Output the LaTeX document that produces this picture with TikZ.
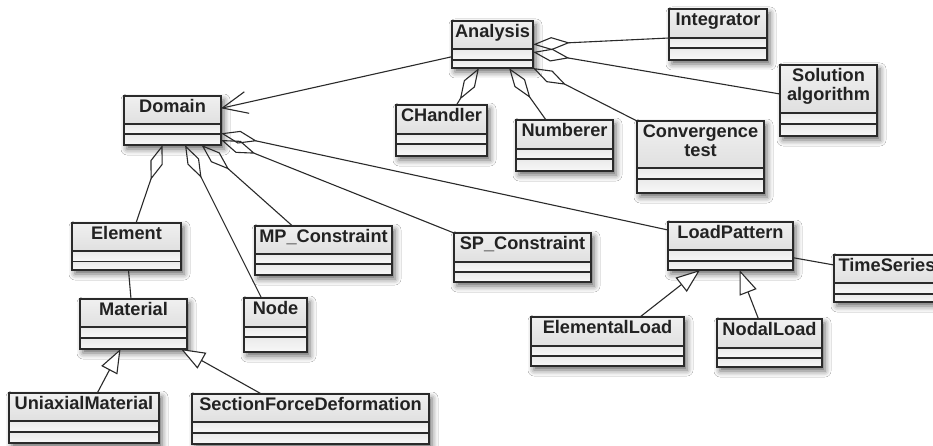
\documentclass[tikz,border=0pt]{standalone}
\usepackage{fontspec}
\setmainfont{Liberation Sans}
\usetikzlibrary{arrows.meta,fit,shadows.blur}
\definecolor{ttop}{HTML}{F0F0F0}
\definecolor{tbot}{HTML}{E0E0E0}
\definecolor{ctop}{HTML}{EAEAEA}
\definecolor{cbot}{HTML}{F8F8F8}
\definecolor{linec}{HTML}{2A2A2A}
\definecolor{textc}{HTML}{222222}
\tikzset{
  boxbase/.style={inner sep=0pt, outer sep=0pt, fill=white,
    blur shadow={shadow xshift=3pt, shadow yshift=-4pt, shadow blur radius=6pt, shadow opacity=60}},
  boxline/.style={draw=linec, line width=1.8pt},
  classtitle/.style={anchor=north, inner xsep=0pt, inner ysep=3.6pt, text=textc,
    font=\fontsize{18.2}{19}\selectfont\bfseries, align=center},
  assoc/.style={draw=linec, line width=1.1pt},
  agg/.style={assoc, {Diamond[open, length=37pt, width=13pt, line width=1.1pt]}-},
  gen/.style={assoc, {Triangle[fill=white, length=24pt, width=18pt, line width=1.1pt]}-},
  nav/.style={assoc, {Straight Barb[length=25pt, width=22pt, line width=1.1pt]}-}
}
\newcommand\umlclass[8]{%
  \node[boxbase, fit={(#2,#3) (#4,#5)}] (#1) {};
  \shade[top color=ttop, bottom color=tbot] (#2,#3) rectangle (#4,#6);
  \shade[top color=ctop, bottom color=cbot] (#2,#6) rectangle (#4,#7);
  \shade[top color=ctop, bottom color=cbot] (#2,#7) rectangle (#4,#5);
  \draw[boxline] (#2,#6) -- (#4,#6) (#2,#7) -- (#4,#7) (#2,#3) rectangle (#4,#5);
  \node[classtitle] (#1-title) at (#1.north) {#8};
}
\begin{document}
\begin{tikzpicture}[x=1pt, y=-1pt]
\useasboundingbox (0,0) rectangle (933,446);
\clip (0,0) rectangle (933,446);
\fill[white] (0,0) rectangle (933,446);

\umlclass{analysis}{452}{21}{533}{68}{49}{60}{Analysis}
\umlclass{integrator}{669}{9}{767}{60}{38}{48}{Integrator}
\umlclass{solution}{780}{65}{877}{136}{113}{124}{Solution\\algorithm}
\umlclass{conv}{637}{121}{764}{193}{168}{179}{Convergence\\test}
\umlclass{chandler}{396}{105}{487}{156}{134}{144}{CHandler}
\umlclass{numberer}{516}{120}{613}{171}{149}{159}{Numberer}
\umlclass{domain}{124}{96}{221}{145}{124}{134}{Domain}
\umlclass{element}{72}{223}{181}{270}{251}{261.5}{Element}
\umlclass{mp}{255}{226}{392}{275}{254}{264}{MP\_Constraint}
\umlclass{sp}{454}{233}{591}{282}{262}{272}{SP\_Constraint}
\umlclass{lp}{668}{222}{793}{270}{250}{261}{LoadPattern}
\umlclass{ts}{834}{255}{940}{302}{283}{294}{TimeSeries}
\umlclass{el}{531}{317}{684}{366}{346}{356}{ElementalLoad}
\umlclass{nl}{717}{319}{822}{367}{348}{358}{NodalLoad}
\umlclass{material}{80}{299}{187}{349}{327}{338}{Material}
\umlclass{node}{244}{298}{307}{352}{327}{337}{Node}
\umlclass{uni}{9}{393}{159}{443}{421}{432}{UniaxialMaterial}
\umlclass{sfd}{192}{394}{429}{444}{422}{433}{SectionForceDeformation}

% navigable association
\draw[nav] ([yshift=12.2pt]domain.east) -- ([yshift=-12.2pt]analysis.west);

% aggregations of Analysis
\draw[agg] (analysis.east) -- ([yshift=-3.5pt]integrator.west);
\draw[agg] ([yshift=-7.5pt]analysis.east) -- ([yshift=6.5pt]solution.west);
\draw[agg] (analysis.south east) -- (conv.north west);
\draw[agg] ([xshift=16.5pt]analysis.south) -- ([xshift=-18.5pt]numberer.north);
\draw[agg] ([xshift=-13.5pt]analysis.south) -- ([xshift=15pt]chandler.north);

% aggregations of Domain
\draw[agg] ([xshift=-10pt]domain.south) -- ([xshift=9.5pt]element.north);
\draw[agg] ([xshift=12.5pt]domain.south) -- ([xshift=-14pt]node.north);
\draw[agg] ([xshift=29pt]domain.south) -- ([xshift=-31pt]mp.north);
\draw[agg] ([yshift=-19.5pt]domain.east) -- (sp.north west);
\draw[agg] ([yshift=-12.8pt]domain.east) -- ([yshift=16pt]lp.west);

% plain associations
\draw[assoc] ([xshift=2pt]element.south) -- ([xshift=-2.5pt]material.north);
\draw[assoc] ([yshift=-11.7pt]lp.east) -- ([yshift=13.5pt]ts.west);

% generalizations
\draw[gen] ([xshift=-13pt]material.south) -- ([xshift=13.3pt]uni.north);
\draw[gen] ([xshift=-6pt]material.south east) -- ([xshift=-49pt]sfd.north);
\draw[gen] ([xshift=-30.5pt]lp.south) -- ([xshift=32.5pt]el.north);
\draw[gen] ([xshift=9pt]lp.south) -- ([xshift=-11pt]nl.north);
\end{tikzpicture}
\end{document}
